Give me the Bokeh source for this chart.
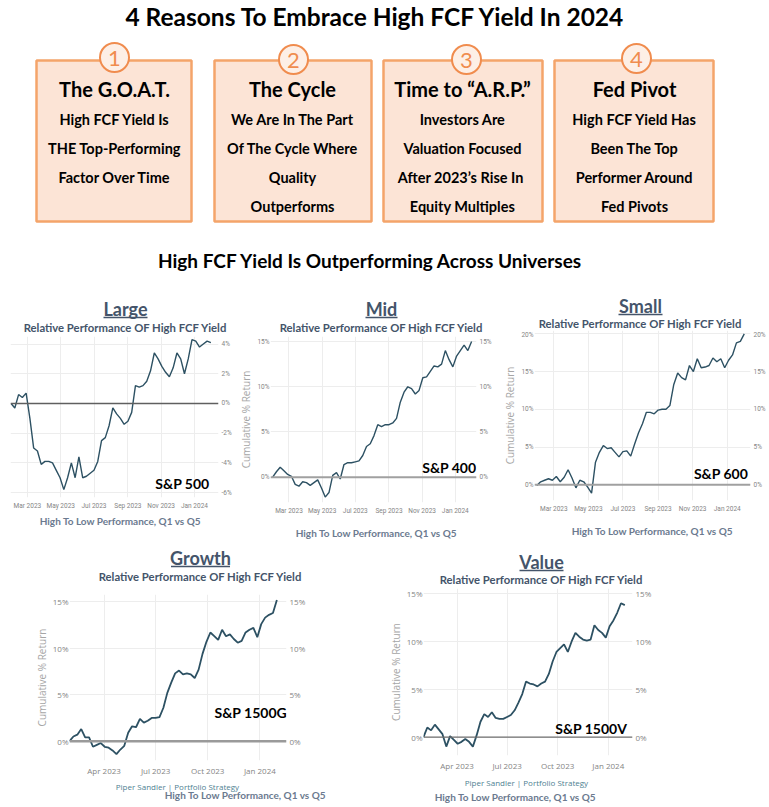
import pandas as pd
from bokeh.plotting import figure
from bokeh.layouts import column, row
from bokeh.models import (Range1d, LinearAxis, FixedTicker, PrintfTickFormatter,
                          DatetimeTickFormatter, MonthsTicker, Span, Spacer, Label)
from bokeh.core.properties import value
from bokeh.embed import file_html
from bokeh.resources import INLINE

# ---------------- data ----------------
title_main = "4 Reasons To Embrace High FCF Yield In 2024"
section_title = "High FCF Yield Is Outperforming Across Universes"
box_numbers = ["1", "2", "3", "4"]
box_headings = ["The G.O.A.T.", "The Cycle", "Time to \u201cA.R.P.\u201d", "Fed Pivot"]
box_lines = [
    ["High FCF Yield Is", "THE Top-Performing", "Factor Over Time"],
    ["We Are In The Part", "Of The Cycle Where", "Quality", "Outperforms"],
    ["Investors Are", "Valuation Focused", "After 2023\u2019s  Rise In", "Equity Multiples"],
    ["High FCF Yield Has", "Been The Top", "Performer Around", "Fed Pivots"],
]
chart_titles = ["Large", "Mid", "Small", "Growth", "Value"]
chart_subtitle = "Relative Performance OF High FCF Yield"
index_names = ["S&P 500", "S&P 400", "S&P 600", "S&P 1500G", "S&P 1500V"]
x_title = "High To Low Performance, Q1 vs Q5"
source_note = "Piper Sandler  |  Portfolio Strategy"
y_title = "Cumulative % Return"

large = [0.0, -0.3, 0.6, 0.4, 0.7, -1.0, -3.0, -3.2, -4.1, -3.9, -3.9, -4.0, -4.5, -5.0,
         -5.8, -5.0, -4.0, -5.0, -3.6, -5.0, -4.9, -4.7, -4.5, -3.9, -2.5, -2.3, -1.5, -0.3,
         -0.7, -1.0, -1.4, -1.2, -0.6, 1.2, 1.1, 1.2, 1.5, 2.2, 3.4, 3.0, 2.5, 2.1, 1.8, 2.4,
         3.4, 3.0, 2.0, 3.0, 4.3, 4.2, 3.8, 4.0, 4.2, 4.1]
mid = [0.0, 0.6, 1.1, 0.7, 0.3, 0.1, -0.8, -1.0, -0.5, -0.6, -0.9, -0.6, -0.3, -1.2,
       -2.2, -1.7, 0.2, 0.5, -0.2, 1.4, 1.6, 1.6, 1.7, 1.8, 2.4, 3.4, 3.7, 4.6, 5.8, 5.6,
       5.8, 5.8, 6.0, 6.5, 8.3, 9.4, 10.0, 9.8, 9.2, 9.6, 11.0, 11.1, 11.7, 12.3, 12.2,
       12.5, 14.0, 13.0, 12.2, 13.4, 14.0, 14.6, 14.0, 15.0]
small = [-0.1, 0.4, 0.6, 0.8, 0.6, 1.1, 0.4, 1.0, 2.0, 0.9, -0.4, 0.6, 0.4, -0.3, -1.1,
         3.0, 4.3, 5.2, 4.8, 4.9, 4.3, 3.7, 4.4, 4.5, 3.8, 5.4, 6.9, 8.1, 9.6, 9.6, 9.4,
         9.9, 10.0, 10.0, 10.5, 13.3, 14.8, 14.2, 13.9, 15.8, 15.0, 16.7, 15.5, 15.6, 15.8,
         16.8, 16.3, 16.7, 15.5, 16.5, 17.2, 18.8, 19.0, 20.0]
growth = [0.0, 0.5, 0.7, 1.3, 0.4, 0.4, -0.6, -0.4, -0.2, -0.6, -0.7, -1.0, -1.4, -0.9,
          -0.5, 0.9, 1.6, 1.5, 2.4, 2.0, 2.2, 2.5, 2.5, 2.6, 3.6, 5.2, 6.3, 7.3, 7.6, 7.2,
          7.3, 7.2, 6.8, 7.7, 9.4, 10.7, 11.7, 11.3, 10.9, 12.0, 11.3, 11.5, 11.0, 10.6,
          10.8, 11.7, 12.0, 12.2, 11.2, 12.6, 13.3, 13.6, 13.8, 15.2]
value_ = [0.0, 1.0, 0.7, 1.3, 0.8, 0.3, -1.0, 0.1, -0.3, -0.7, -0.5, -0.2, -0.5, -1.0,
          0.2, 1.6, 2.4, 2.1, 2.6, 2.0, 1.9, 1.9, 2.1, 2.3, 2.8, 3.6, 4.5, 5.8, 5.6, 5.5,
          5.3, 5.6, 5.8, 6.6, 7.9, 8.9, 9.3, 9.7, 8.9, 10.0, 10.9, 10.5, 10.2, 10.1, 10.2,
          11.7, 11.2, 10.9, 10.4, 11.6, 12.2, 13.0, 14.0, 13.8]
dates = pd.date_range("2023-01-30", "2024-01-31", periods=len(large))

# ---------------- style ----------------
HFONT = "Lato"
TFONT_SMALL = "Roboto"
TFONT = "Open Sans"
TITLE_C = "#44546A"
XT_C = "#6B7A8F"
LINE_C = "#2D5163"
TICK_C = "#858585"
GRID_C = "#EDEDED"


def canvas(w, h):
    p = figure(width=w, height=h, x_range=Range1d(0, w), y_range=Range1d(h, 0),
               x_axis_location=None, y_axis_location=None, toolbar_location=None,
               output_backend="svg", min_border=0)
    p.frame_align = False
    p.grid.visible = False
    p.outline_line_color = None
    return p


def txt(p, xs, ys, ss, size, color="black", style="bold", font=HFONT, align="center"):
    p.text(x=xs, y=ys, text=ss, text_font=value(font), text_font_size=f"{size}px",
           text_font_style=style, text_color=color, text_align=align, text_baseline="middle")


# ---------------- header ----------------
hdr = canvas(769, 290)
txt(hdr, [375], [16], [title_main], 24.5)
box_left = [36, 214, 383, 554]
box_right = [191, 371, 542, 713]
circ_x = [114, 293, 466, 636]
circ_y = [57, 59, 59, 58]
text_x = [114, 292, 462, 634]
hdr.quad(left=box_left, right=box_right, top=[60] * 4, bottom=[221] * 4,
         fill_color="#FCE4D6", line_color="#F4A46A", line_width=2.5)
hdr.scatter(x=circ_x, y=circ_y, size=29, marker="circle", fill_color="#FDEFE6",
            line_color="#F08C4E", line_width=2)
txt(hdr, circ_x, [c + 1 for c in circ_y], box_numbers, 22, color="#F08C4E", style="normal")
txt(hdr, text_x, [88] * 4, box_headings, 20)
line_y = [119, 148, 177, 206]
for i, lines in enumerate(box_lines):
    txt(hdr, [text_x[i]] * len(lines), line_y[:len(lines)], lines, 14.5)
txt(hdr, [370], [260], [section_title], 19)


# ---------------- charts ----------------
def title_canvas(w, h, name, cx, ty, uw, sy):
    c = canvas(w, h)
    txt(c, [cx], [ty], [name], 18, color=TITLE_C)
    c.segment(x0=[cx - uw / 2], y0=[ty + 9], x1=[cx + uw / 2], y1=[ty + 9],
              line_color=TITLE_C, line_width=1.5)
    txt(c, [cx], [sy], [chart_subtitle], 11.3, color=TITLE_C)
    return c


def footer_canvas(w, h, cx, ty, size, note=None):
    c = canvas(w, h)
    if note is not None:
        txt(c, [note[0]], [note[1]], [source_note], 8, color="#4F7F92", style="normal", font=TFONT)
    txt(c, [cx], [ty], [x_title], size, color=XT_C)
    return c


def style_axis(ax, font, px, standoff):
    ax.axis_line_color = None
    ax.major_tick_line_color = None
    ax.minor_tick_line_color = None
    ax.major_tick_out = 0
    ax.major_tick_in = 0
    ax.major_label_text_font = font
    ax.major_label_text_font_size = f"{px}px"
    ax.major_label_text_color = TICK_C
    ax.major_label_standoff = standoff


def chart(vals, w, h, mb, xr, yr, yticks, months, left_axis, font, px, line_w,
          zero_c, zero_w, lab, lab_xy, ytitle_px):
    l, r, t, b = mb
    p = figure(width=w, height=h, x_axis_type="datetime",
               x_range=Range1d(pd.Timestamp(xr[0]), pd.Timestamp(xr[1])),
               y_range=Range1d(yr[0], yr[1]),
               y_axis_location="left" if left_axis else None,
               toolbar_location=None, output_backend="svg",
               min_border_left=l, min_border_right=r, min_border_top=t, min_border_bottom=b)
    p.frame_align = False
    p.outline_line_color = None
    p.xgrid.ticker = MonthsTicker(months=months)
    p.ygrid.ticker = FixedTicker(ticks=yticks)
    p.grid.grid_line_color = GRID_C
    p.grid.grid_line_width = 1

    xa = p.xaxis[0]
    xa.ticker = MonthsTicker(months=months)
    xa.formatter = DatetimeTickFormatter(months="%b %Y", days="%b %Y")
    style_axis(xa, font, px, 4)

    if left_axis:
        ya = p.yaxis[0]
        ya.ticker = FixedTicker(ticks=yticks)
        ya.formatter = PrintfTickFormatter(format="%d%%")
        style_axis(ya, font, px, 1)
        ya.axis_label = y_title
        ya.axis_label_text_font = TFONT
        ya.axis_label_text_font_style = "normal"
        ya.axis_label_text_font_size = f"{ytitle_px}px"
        ya.axis_label_text_color = "#A6A6A6"
        ya.axis_label_standoff = 1
    ra = LinearAxis(ticker=FixedTicker(ticks=yticks), formatter=PrintfTickFormatter(format="%d%%"))
    style_axis(ra, font, px, 3)
    p.add_layout(ra, "right")

    p.add_layout(Span(location=0, dimension="width", line_color=zero_c, line_width=zero_w))
    p.line(x=dates, y=vals, line_color=LINE_C, line_width=line_w)
    p.add_layout(Label(x=pd.Timestamp(lab_xy[0]), y=lab_xy[1], text=lab, text_font=HFONT,
                       text_font_style="bold", text_font_size="14px", text_color="black",
                       text_align="center", text_baseline="middle"))
    return p


M2 = [0, 2, 4, 6, 8, 10]
M3 = [0, 3, 6, 9]

# Large (x 0..236)
t_large = title_canvas(236, 44, chart_titles[0], 125, 18, 44, 37)
f_large = chart(large, 236, 179, (10, 18, 2, 16), ("2023-01-29", "2024-02-14"), (-6.33, 4.51),
                [-6, -4, -2, 0, 2, 4], M2, False, TFONT_SMALL, 6.5, 1.4, "#5F5F5F", 1.3,
                index_names[0], ("2023-12-10", -5.39), 10)
ft_large = footer_canvas(236, 32, 120, 7, 10)

# Mid (x 236..500)
t_mid = title_canvas(264, 44, chart_titles[1], 145, 18, 32, 37)
f_mid = chart(mid, 264, 184, (30, 24, 2, 16), ("2023-01-26", "2024-02-09"), (-2.8, 15.56),
              [0, 5, 10, 15], M2, True, TFONT_SMALL, 6.5, 1.4, "#A0A0A0", 2,
              index_names[1], ("2023-12-21", 1.07), 10)
ft_mid = footer_canvas(264, 27, 140, 14, 10)

# Small (x 500..769)
t_small = title_canvas(269, 40, chart_titles[2], 140, 15, 44, 33)
f_small = chart(small, 269, 186, (25, 19, 0, 16), ("2023-01-26", "2024-02-11"), (-2.08, 20.44),
                [0, 5, 10, 15, 20], M2, True, TFONT_SMALL, 6.5, 1.4, "#A0A0A0", 2,
                index_names[2], ("2023-12-21", 1.5), 10)
ft_small = footer_canvas(269, 29, 152, 14, 10)

# Growth (x 20..330)
t_growth = title_canvas(310, 47, chart_titles[3], 180, 12, 59, 31)
f_growth = chart(growth, 310, 186, (49, 44, 2, 18), ("2023-01-30", "2024-02-17"), (-2.08, 15.79),
                 [0, 5, 10, 15], M3, True, TFONT, 8, 1.8, "#9A9A9A", 2.5,
                 index_names[3], ("2023-12-16", 3.09), 10)
ft_growth = footer_canvas(310, 29, 225, 16, 10, note=(159, 8))

# Value (x 380..670)
t_value = title_canvas(290, 41, chart_titles[4], 161, 16, 44, 34)
f_value = chart(value_, 290, 187, (43, 38, 2, 16), ("2023-01-30", "2024-02-14"), (-1.93, 15.54),
                [0, 5, 10, 15], M3, True, TFONT, 8, 1.8, "#6E6E6E", 1.3,
                index_names[4], ("2023-12-01", 0.86), 10)
ft_value = footer_canvas(290, 34, 135, 23, 10, note=(148, 9))

r1 = row(column(t_large, f_large, ft_large), column(t_mid, f_mid, ft_mid),
         column(t_small, f_small, ft_small))
r2 = row(Spacer(width=20, height=262), column(t_growth, f_growth, ft_growth),
         Spacer(width=50, height=262), column(t_value, f_value, ft_value),
         Spacer(width=99, height=262))
page = column(hdr, r1, r2)

open("out.html", "w").write(file_html(page, INLINE, title="4 Reasons To Embrace High FCF Yield"))
